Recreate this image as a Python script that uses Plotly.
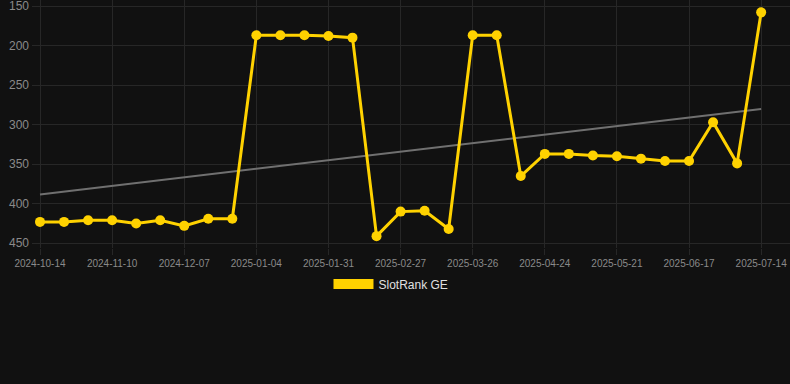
import numpy as np
import plotly.graph_objects as go

dates = [
    "2024-10-14", "2024-10-23", "2024-11-01", "2024-11-10", "2024-11-19", "2024-11-28",
    "2024-12-07", "2024-12-16", "2024-12-25", "2025-01-04", "2025-01-13", "2025-01-22",
    "2025-01-31", "2025-02-09", "2025-02-18", "2025-02-27", "2025-03-08", "2025-03-17",
    "2025-03-26", "2025-04-04", "2025-04-14", "2025-04-24", "2025-05-03", "2025-05-12",
    "2025-05-21", "2025-05-30", "2025-06-08", "2025-06-17", "2025-06-26", "2025-07-05",
    "2025-07-14",
]
ranks = [
    423, 423, 421, 421, 425, 421, 428, 419, 419,
    187, 187, 187, 188, 190,
    441, 410, 409, 432,
    187, 187,
    365, 337, 337, 339, 340, 343, 346, 346, 297, 349, 158,
]
tick_labels = dates[::3]
y_ticks = [150, 200, 250, 300, 350, 400, 450]
series_name = "SlotRank GE"

idx = np.arange(len(ranks))
slope, intercept = np.polyfit(idx, ranks, 1)
trend = slope * idx + intercept

gold = "#FFD200"
grid = "#272727"

fig = go.Figure()
fig.add_trace(go.Scatter(
    x=dates, y=trend, mode="lines",
    line=dict(color="#707070", width=2),
    showlegend=False, hoverinfo="skip",
))
fig.add_trace(go.Scatter(
    x=dates, y=ranks, mode="lines+markers",
    line=dict(color=gold, width=3),
    marker=dict(color=gold, size=10),
    showlegend=False, cliponaxis=False,
))
fig.add_trace(go.Scatter(
    x=[None], y=[None], mode="lines",
    line=dict(color=gold, width=12),
    name=series_name, showlegend=True,
))

fig.update_layout(
    width=790, height=384,
    margin=dict(l=32, r=0, t=0, b=136),
    paper_bgcolor="#111111", plot_bgcolor="#111111",
    font=dict(family="Liberation Sans, Arial, sans-serif", color="#8a8a8a"),
    xaxis=dict(
        type="category",
        categoryorder="array", categoryarray=dates,
        range=[-0.333, 31.2],
        tickmode="array", tickvals=tick_labels, ticktext=tick_labels,
        showgrid=True, gridcolor=grid, gridwidth=1,
        ticks="outside", ticklen=6, tickcolor=grid,
        tickfont=dict(size=10, color="#8a8a8a"),
        showline=False, zeroline=False,
    ),
    yaxis=dict(
        range=[456, 142.4],
        tickmode="array", tickvals=y_ticks, ticktext=[str(v) for v in y_ticks],
        showgrid=True, gridcolor=grid, gridwidth=1,
        tickfont=dict(size=12, color="#8a8a8a"),
        ticks="", ticklabelstandoff=2, ticklabeloverflow="allow",
        showline=False, zeroline=False,
    ),
    legend=dict(
        orientation="h", x=0.4736, xanchor="center", y=-0.145, yanchor="middle",
        font=dict(size=12, color="#e0e0e0"),
        itemwidth=40, bgcolor="rgba(0,0,0,0)",
    ),
)

fig.write_html(
    "out.html",
    config={"displayModeBar": False},
    post_script="document.body.style.margin='0';document.body.style.background='#111111';",
)
